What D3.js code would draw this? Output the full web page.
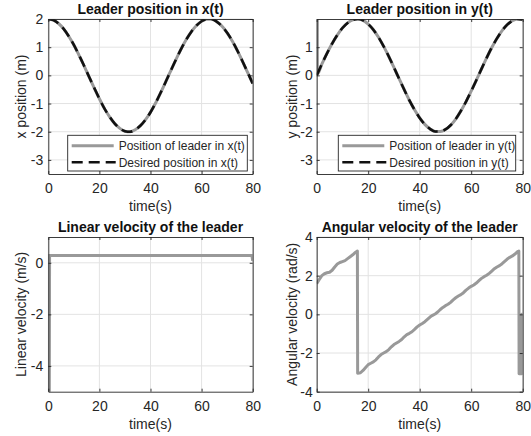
<!DOCTYPE html>
<html><head><meta charset="utf-8">
<script src="https://cdn.jsdelivr.net/npm/d3@7"></script>
<style>
body{margin:0;background:#fff;}
svg text{font-family:"Liberation Sans",Arial,Helvetica,sans-serif;}
</style></head>
<body><svg id="c" width="531" height="436"></svg>
<script>
// ---------------- data ----------------
const xTicks = [0, 20, 40, 60, 80];
const posXYTicks = [-3, -2, -1, 0, 1, 2];
const posYYTicks = [-3, -2, -1, 0, 1];
const linVelTicks = [-4, -2, 0];
const angVelTicks = [-4, -2, 0, 2, 4];

const titles = ["Leader position in x(t)", "Leader position in y(t)",
                "Linear velocity of the leader", "Angular velocity of the leader"];
const yLabels = ["x position (m)", "y position (m)", "Linear velocity (m/s)", "Angular velocity (rad/s)"];
const xLabel = "time(s)";
const legendX = ["Position of leader in x(t)", "Desired position in x(t)"];
const legendY = ["Position of leader in y(t)", "Desired position in y(t)"];

const timeGrid = [0,2,4,6,8,10,12,14,16,18,20,22,24,26,28,30,32,34,36,38,40,
                  42,44,46,48,50,52,54,56,58,60,62,64,66,68,70,72,74,76,78,80];
const xLeader = [2.00,1.96,1.84,1.65,1.39,1.08,0.72,0.34,-0.06,-0.45,-0.83,-1.18,-1.47,-1.71,-1.88,-1.98,-2.00,-1.93,-1.79,-1.58,-1.31,
                 -0.98,-0.61,-0.22,0.18,0.57,0.94,1.27,1.55,1.77,1.92,1.99,1.99,1.90,1.74,1.51,1.22,0.88,0.50,0.11,-0.29];
const xDesired = [2.00,1.96,1.84,1.65,1.39,1.08,0.72,0.34,-0.06,-0.45,-0.83,-1.18,-1.47,-1.71,-1.88,-1.98,-2.00,-1.93,-1.79,-1.58,-1.31,
                 -0.98,-0.61,-0.22,0.18,0.57,0.94,1.27,1.55,1.77,1.92,1.99,1.99,1.90,1.74,1.51,1.22,0.88,0.50,0.11,-0.29];
const yDesired = [0.00,0.40,0.78,1.13,1.43,1.68,1.86,1.97,2.00,1.95,1.82,1.62,1.35,1.03,0.67,0.28,-0.12,-0.51,-0.89,-1.22,-1.51,
                  -1.74,-1.90,-1.99,-1.99,-1.92,-1.77,-1.55,-1.26,-0.93,-0.56,-0.17,0.23,0.62,0.99,1.31,1.59,1.80,1.94,2.00,1.98];
// leader y starts with a jump from the top down to 0
const yLeaderTime = [0.25, 0.26, 2,4,6,8,10,12,14,16,18,20,22,24,26,28,30,32,34,36,38,40,
                     42,44,46,48,50,52,54,56,58,60,62,64,66,68,70,72,74,76,78,80];
const yLeader = [2.05, 0.05, 0.40,0.78,1.13,1.43,1.68,1.86,1.97,2.00,1.95,1.82,1.62,1.35,1.03,0.67,0.28,-0.12,-0.51,-0.89,-1.22,-1.51,
                 -1.74,-1.90,-1.99,-1.99,-1.92,-1.77,-1.55,-1.26,-0.93,-0.56,-0.17,0.23,0.62,0.99,1.31,1.59,1.80,1.94,2.00,1.98];

const linVelTime = [0, 0.4, 0.5, 79.7, 80];
const linVel = [-5, -5, 0.28, 0.28, 0.08];

const angVelTime = [0,1,2,3,4,5,6,7,8,9,10,11,12,13,14,15,15.8,15.9,
  17,18,19,20,21,22,23,24,25,26,27,28,29,30,31,32,33,34,35,36,37,38,39,40,
  41,42,43,44,45,46,47,48,49,50,51,52,53,54,55,56,57,58,59,60,
  61,62,63,64,65,66,67,68,69,70,71,72,73,74,75,76,77,78,78.5,78.6,79.6,79.7,80];
const angVel = [1.59,1.80,2.00,2.10,2.15,2.18,2.28,2.45,2.60,2.68,2.73,2.78,2.88,2.98,3.08,3.20,3.27,-3.05,
  -3.02,-2.90,-2.75,-2.60,-2.53,-2.46,-2.35,-2.20,-2.08,-2.00,-1.93,-1.82,-1.68,-1.56,-1.48,-1.40,-1.30,-1.16,-1.05,-0.98,-0.90,-0.78,-0.65,-0.55,
  -0.47,-0.38,-0.26,-0.14,-0.05,0.02,0.12,0.25,0.36,0.45,0.52,0.62,0.75,0.86,0.95,1.02,1.12,1.25,1.36,1.45,
  1.52,1.62,1.74,1.86,1.95,2.02,2.12,2.24,2.36,2.45,2.52,2.62,2.74,2.86,2.95,3.02,3.12,3.24,3.27,-3.07,-3.07,0.00,0.00];

// ---------------- drawing ----------------
const svg = d3.select("#c");
const ink = "#262626", gridC = "#e3e3e3", gray = "#999999";

const panels = [
  {x0:48.3, x1:252.7, y0:19, y1:174, dom:[-3.5,2], yt:posXYTicks, lx:26, pad:5},
  {x0:316.7, x1:522.7, y0:19, y1:174, dom:[-3.5,2], yt:posYYTicks, lx:297, pad:4},
  {x0:48.3, x1:252.7, y0:237, y1:391.7, dom:[-5,1], yt:linVelTicks, lx:26, pad:5},
  {x0:316.7, x1:522.7, y0:237, y1:391.7, dom:[-4,4], yt:angVelTicks, lx:297, pad:4}
];

panels.forEach((p, i) => {
  p.x = d3.scaleLinear().domain([0, 80]).range([p.x0, p.x1]);
  p.y = d3.scaleLinear().domain(p.dom).range([p.y1, p.y0]);
  const g = svg.append("g");
  p.g = g;
  g.append("rect").attr("x", p.x0).attr("y", p.y0).attr("width", p.x1 - p.x0).attr("height", p.y1 - p.y0).attr("fill", "#fff");
  g.selectAll(".vg").data(xTicks).enter().append("line")
    .attr("x1", d => p.x(d)).attr("x2", d => p.x(d)).attr("y1", p.y0).attr("y2", p.y1)
    .attr("stroke", gridC).attr("stroke-width", 1);
  g.selectAll(".hg").data(p.yt).enter().append("line")
    .attr("y1", d => p.y(d)).attr("y2", d => p.y(d)).attr("x1", p.x0).attr("x2", p.x1)
    .attr("stroke", gridC).attr("stroke-width", 1);
  svg.append("clipPath").attr("id", "clip" + i).append("rect")
    .attr("x", p.x0).attr("y", p.y0).attr("width", p.x1 - p.x0).attr("height", p.y1 - p.y0);
  p.plot = g.append("g").attr("clip-path", `url(#clip${i})`);
});

function drawAxes(p, i) {
  const g = p.g;
  const fmt = d => d3.format("")(d).replace("−", "-");
  const bottom = g.append("g").attr("transform", `translate(0,${p.y1})`)
    .call(d3.axisBottom(p.x).tickValues(xTicks).tickSizeInner(-3).tickSizeOuter(0).tickPadding(9).tickFormat(fmt));
  const top = g.append("g").attr("transform", `translate(0,${p.y0})`)
    .call(d3.axisTop(p.x).tickValues(xTicks).tickSizeInner(-3).tickSizeOuter(0).tickFormat(""));
  const left = g.append("g").attr("transform", `translate(${p.x0},0)`)
    .call(d3.axisLeft(p.y).tickValues(p.yt).tickSizeInner(-3).tickSizeOuter(0).tickPadding(p.pad).tickFormat(fmt));
  const right = g.append("g").attr("transform", `translate(${p.x1},0)`)
    .call(d3.axisRight(p.y).tickValues(p.yt).tickSizeInner(-3).tickSizeOuter(0).tickFormat(""));
  [bottom, top, left, right].forEach(a => {
    a.selectAll("path.domain").attr("stroke", ink).attr("stroke-width", 0.9);
    a.selectAll(".tick line").attr("stroke", ink).attr("stroke-width", 0.9);
    a.selectAll("text").attr("fill", ink).style("font-size", "14px")
      .style("font-family", '"Liberation Sans",Arial,sans-serif');
  });
  svg.append("text").attr("x", (p.x0 + p.x1) / 2).attr("y", p.y0 - 5)
    .attr("text-anchor", "middle").attr("font-weight", "bold").attr("font-size", 14)
    .attr("fill", "#111").text(titles[i]);
  svg.append("text").attr("x", (p.x0 + p.x1) / 2).attr("y", p.y1 + 37)
    .attr("text-anchor", "middle").attr("font-size", 14).attr("fill", ink).text(xLabel);
  svg.append("text").attr("transform", `translate(${p.lx},${(p.y0 + p.y1) / 2}) rotate(-90)`)
    .attr("text-anchor", "middle").attr("font-size", 14).attr("fill", ink).text(yLabels[i]);
}

const lineOf = (p, curve) => d3.line().x(d => p.x(d[0])).y(d => p.y(d[1])).curve(curve || d3.curveLinear);
const zip = (a, b) => a.map((v, k) => [v, b[k]]);

{
  const p = panels[0];
  p.plot.append("path").attr("d", lineOf(p, d3.curveMonotoneX)(zip(timeGrid, xLeader)))
    .attr("fill", "none").attr("stroke", gray).attr("stroke-width", 3);
  p.plot.append("path").attr("d", lineOf(p, d3.curveMonotoneX)(zip(timeGrid, xDesired)))
    .attr("fill", "none").attr("stroke", "#111").attr("stroke-width", 2.6).attr("stroke-dasharray", "11,6");
}
{
  const p = panels[1];
  p.plot.append("path").attr("d", lineOf(p, d3.curveMonotoneX)(zip(yLeaderTime, yLeader)))
    .attr("fill", "none").attr("stroke", gray).attr("stroke-width", 3);
  p.plot.append("path").attr("d", lineOf(p, d3.curveMonotoneX)(zip(timeGrid, yDesired)))
    .attr("fill", "none").attr("stroke", "#111").attr("stroke-width", 2.6).attr("stroke-dasharray", "11,6");
}
{
  const p = panels[2];
  p.plot.append("path").attr("d", lineOf(p)(zip(linVelTime, linVel)))
    .attr("fill", "none").attr("stroke", gray).attr("stroke-width", 3);
}
{
  const p = panels[3];
  p.plot.append("path").attr("d", lineOf(p)(zip(angVelTime, angVel)))
    .attr("fill", "none").attr("stroke", gray).attr("stroke-width", 3).attr("stroke-linejoin", "round");
}

panels.forEach((p, i) => drawAxes(p, i));

function legend(p, labels, bx0, bx1) {
  const by0 = 135.3, by1 = 171;
  const g = svg.append("g");
  g.append("rect").attr("x", bx0).attr("y", by0).attr("width", bx1 - bx0).attr("height", by1 - by0)
    .attr("fill", "#fff").attr("stroke", ink).attr("stroke-width", 0.9);
  const rows = [by0 + 10.5, by0 + 27];
  const lx0 = bx0 + 4, lx1 = bx0 + 46;
  g.append("line").attr("x1", lx0).attr("x2", lx1).attr("y1", rows[0]).attr("y2", rows[0])
    .attr("stroke", gray).attr("stroke-width", 3);
  g.append("line").attr("x1", lx0).attr("x2", lx1 + 2).attr("y1", rows[1]).attr("y2", rows[1])
    .attr("stroke", "#111").attr("stroke-width", 2.6).attr("stroke-dasharray", "11,6");
  labels.forEach((t, k) => g.append("text").attr("x", lx1 + 5).attr("y", rows[k] + 4.3)
    .attr("font-size", 12).attr("fill", ink).text(t));
}
legend(panels[0], legendX, 67.7, 247.3);
legend(panels[1], legendY, 338.3, 515.7);
</script></body></html>
